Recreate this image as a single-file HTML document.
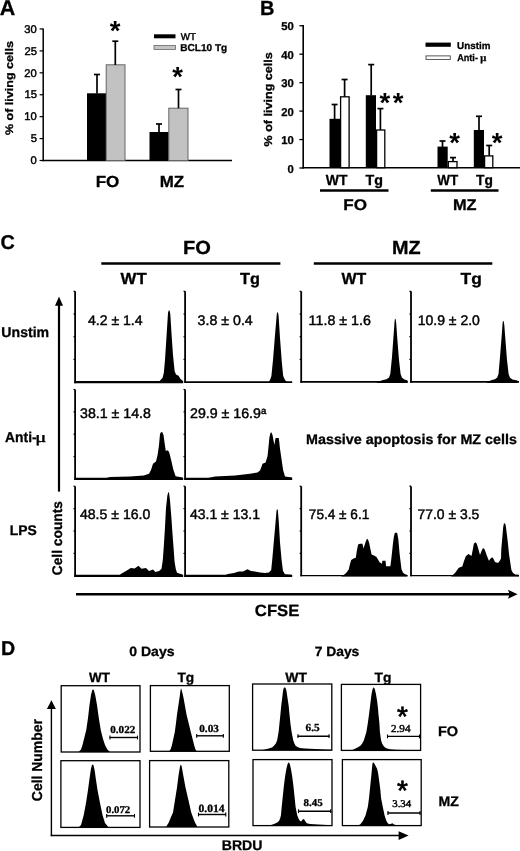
<!DOCTYPE html>
<html><head><meta charset="utf-8"><title>Figure</title>
<style>
html,body{margin:0;padding:0;background:#fff;}
svg{display:block;}
text{fill:#000;}
</style></head>
<body>
<svg width="520" height="851" viewBox="0 0 520 851" shape-rendering="geometricPrecision" text-rendering="geometricPrecision">
<defs><filter id="soft" x="0" y="0" width="520" height="851" filterUnits="userSpaceOnUse"><feGaussianBlur stdDeviation="0.45"/></filter></defs>
<rect x="0" y="0" width="520" height="851" fill="#fff"/>
<g filter="url(#soft)">
<text x="-0.34" y="14.60" font-size="21.3" font-weight="700" font-family='"Liberation Sans", sans-serif' textLength="15.52" lengthAdjust="spacingAndGlyphs" stroke="#000" stroke-width="0.30">A</text>
<line x1="43.20" y1="28.50" x2="43.20" y2="161.20" stroke="#000" stroke-width="1.5" stroke-linecap="butt"/>
<line x1="42.50" y1="160.50" x2="232.00" y2="160.50" stroke="#000" stroke-width="1.5" stroke-linecap="butt"/>
<line x1="39.60" y1="160.50" x2="43.20" y2="160.50" stroke="#000" stroke-width="1.2" stroke-linecap="butt"/>
<text x="30.58" y="164.20" font-size="11.2" font-weight="400" font-family='"Liberation Sans", sans-serif' textLength="6.23" lengthAdjust="spacingAndGlyphs" stroke="#000" stroke-width="0.45">0</text>
<line x1="39.60" y1="138.58" x2="43.20" y2="138.58" stroke="#000" stroke-width="1.2" stroke-linecap="butt"/>
<text x="30.63" y="142.28" font-size="11.2" font-weight="400" font-family='"Liberation Sans", sans-serif' textLength="6.23" lengthAdjust="spacingAndGlyphs" stroke="#000" stroke-width="0.45">5</text>
<line x1="39.60" y1="116.66" x2="43.20" y2="116.66" stroke="#000" stroke-width="1.2" stroke-linecap="butt"/>
<text x="24.36" y="120.36" font-size="11.2" font-weight="400" font-family='"Liberation Sans", sans-serif' textLength="12.46" lengthAdjust="spacingAndGlyphs" stroke="#000" stroke-width="0.45">10</text>
<line x1="39.60" y1="94.74" x2="43.20" y2="94.74" stroke="#000" stroke-width="1.2" stroke-linecap="butt"/>
<text x="24.42" y="98.44" font-size="11.2" font-weight="400" font-family='"Liberation Sans", sans-serif' textLength="12.46" lengthAdjust="spacingAndGlyphs" stroke="#000" stroke-width="0.45">15</text>
<line x1="39.60" y1="72.82" x2="43.20" y2="72.82" stroke="#000" stroke-width="1.2" stroke-linecap="butt"/>
<text x="24.36" y="76.52" font-size="11.2" font-weight="400" font-family='"Liberation Sans", sans-serif' textLength="12.46" lengthAdjust="spacingAndGlyphs" stroke="#000" stroke-width="0.45">20</text>
<line x1="39.60" y1="50.90" x2="43.20" y2="50.90" stroke="#000" stroke-width="1.2" stroke-linecap="butt"/>
<text x="24.42" y="54.60" font-size="11.2" font-weight="400" font-family='"Liberation Sans", sans-serif' textLength="12.46" lengthAdjust="spacingAndGlyphs" stroke="#000" stroke-width="0.45">25</text>
<line x1="39.60" y1="28.98" x2="43.20" y2="28.98" stroke="#000" stroke-width="1.2" stroke-linecap="butt"/>
<text x="24.36" y="32.68" font-size="11.2" font-weight="400" font-family='"Liberation Sans", sans-serif' textLength="12.46" lengthAdjust="spacingAndGlyphs" stroke="#000" stroke-width="0.45">30</text>
<text transform="translate(12.70,135.11) rotate(-90)" x="0" y="0" font-size="11" font-weight="700" font-family='"Liberation Sans", sans-serif' textLength="94.04" lengthAdjust="spacingAndGlyphs" stroke="#000" stroke-width="0.3">% of living cells</text>
<rect x="87.00" y="93.30" width="19.20" height="67.20" fill="#000"/>
<rect x="106.20" y="64.80" width="18.80" height="95.70" fill="#c2c2c2" stroke="#666" stroke-width="1"/>
<rect x="149.50" y="132.00" width="19.30" height="28.50" fill="#000"/>
<rect x="168.80" y="108.20" width="19.20" height="52.30" fill="#c2c2c2" stroke="#666" stroke-width="1"/>
<line x1="97.00" y1="74.50" x2="97.00" y2="93.50" stroke="#000" stroke-width="1.7" stroke-linecap="butt"/>
<line x1="94.00" y1="74.50" x2="100.00" y2="74.50" stroke="#000" stroke-width="1.7" stroke-linecap="butt"/>
<line x1="115.30" y1="41.20" x2="115.30" y2="65.00" stroke="#000" stroke-width="1.7" stroke-linecap="butt"/>
<line x1="112.30" y1="41.20" x2="118.30" y2="41.20" stroke="#000" stroke-width="1.7" stroke-linecap="butt"/>
<line x1="159.00" y1="124.00" x2="159.00" y2="132.00" stroke="#000" stroke-width="1.7" stroke-linecap="butt"/>
<line x1="156.00" y1="124.00" x2="162.00" y2="124.00" stroke="#000" stroke-width="1.7" stroke-linecap="butt"/>
<line x1="178.50" y1="89.50" x2="178.50" y2="108.20" stroke="#000" stroke-width="1.7" stroke-linecap="butt"/>
<line x1="175.50" y1="89.50" x2="181.50" y2="89.50" stroke="#000" stroke-width="1.7" stroke-linecap="butt"/>
<text x="115.00" y="39.89" text-anchor="middle" font-size="27.5" font-weight="700" font-family='"Liberation Sans", sans-serif' stroke="#000" stroke-width="0">*</text>
<text x="177.60" y="86.39" text-anchor="middle" font-size="27.5" font-weight="700" font-family='"Liberation Sans", sans-serif' stroke="#000" stroke-width="0">*</text>
<rect x="154.00" y="34.30" width="21.50" height="4.00" fill="#000"/>
<rect x="154.00" y="45.50" width="21.50" height="4.00" fill="#c4c4c4" stroke="#666" stroke-width="0.8"/>
<text x="180.85" y="40.10" font-size="10" font-weight="400" font-family='"Liberation Sans", sans-serif' textLength="15.24" lengthAdjust="spacingAndGlyphs" stroke="#000" stroke-width="0.45">WT</text>
<text x="180.24" y="51.20" font-size="10" font-weight="700" font-family='"Liberation Sans", sans-serif' textLength="47.03" lengthAdjust="spacingAndGlyphs" stroke="#000" stroke-width="0.30">BCL10 Tg</text>
<text x="95.69" y="187.00" font-size="16" font-weight="700" font-family='"Liberation Sans", sans-serif' textLength="23.65" lengthAdjust="spacingAndGlyphs" stroke="#000" stroke-width="0.30">FO</text>
<text x="159.80" y="187.00" font-size="16" font-weight="700" font-family='"Liberation Sans", sans-serif' textLength="24.40" lengthAdjust="spacingAndGlyphs" stroke="#000" stroke-width="0.30">MZ</text>
<text x="260.10" y="15.00" font-size="20.5" font-weight="700" font-family='"Liberation Sans", sans-serif' textLength="14.44" lengthAdjust="spacingAndGlyphs" stroke="#000" stroke-width="0.30">B</text>
<line x1="303.20" y1="25.00" x2="303.20" y2="168.40" stroke="#000" stroke-width="1.6" stroke-linecap="butt"/>
<line x1="302.40" y1="167.70" x2="520.00" y2="167.70" stroke="#000" stroke-width="1.6" stroke-linecap="butt"/>
<line x1="299.40" y1="168.00" x2="303.20" y2="168.00" stroke="#000" stroke-width="1.3" stroke-linecap="butt"/>
<text x="287.48" y="172.70" font-size="11.3" font-weight="700" font-family='"Liberation Sans", sans-serif' textLength="6.28" lengthAdjust="spacingAndGlyphs" stroke="#000" stroke-width="0.30">0</text>
<line x1="299.40" y1="139.55" x2="303.20" y2="139.55" stroke="#000" stroke-width="1.3" stroke-linecap="butt"/>
<text x="281.21" y="144.25" font-size="11.3" font-weight="700" font-family='"Liberation Sans", sans-serif' textLength="12.57" lengthAdjust="spacingAndGlyphs" stroke="#000" stroke-width="0.30">10</text>
<line x1="299.40" y1="111.10" x2="303.20" y2="111.10" stroke="#000" stroke-width="1.3" stroke-linecap="butt"/>
<text x="281.21" y="115.80" font-size="11.3" font-weight="700" font-family='"Liberation Sans", sans-serif' textLength="12.57" lengthAdjust="spacingAndGlyphs" stroke="#000" stroke-width="0.30">20</text>
<line x1="299.40" y1="82.65" x2="303.20" y2="82.65" stroke="#000" stroke-width="1.3" stroke-linecap="butt"/>
<text x="281.21" y="87.35" font-size="11.3" font-weight="700" font-family='"Liberation Sans", sans-serif' textLength="12.57" lengthAdjust="spacingAndGlyphs" stroke="#000" stroke-width="0.30">30</text>
<line x1="299.40" y1="54.20" x2="303.20" y2="54.20" stroke="#000" stroke-width="1.3" stroke-linecap="butt"/>
<text x="281.21" y="58.90" font-size="11.3" font-weight="700" font-family='"Liberation Sans", sans-serif' textLength="12.57" lengthAdjust="spacingAndGlyphs" stroke="#000" stroke-width="0.30">40</text>
<line x1="299.40" y1="25.75" x2="303.20" y2="25.75" stroke="#000" stroke-width="1.3" stroke-linecap="butt"/>
<text x="281.21" y="30.45" font-size="11.3" font-weight="700" font-family='"Liberation Sans", sans-serif' textLength="12.57" lengthAdjust="spacingAndGlyphs" stroke="#000" stroke-width="0.30">50</text>
<text transform="translate(271.70,146.51) rotate(-90)" x="0" y="0" font-size="11.3" font-weight="700" font-family='"Liberation Sans", sans-serif' textLength="94.24" lengthAdjust="spacingAndGlyphs" stroke="#000" stroke-width="0.3">% of living cells</text>
<rect x="329.50" y="118.80" width="10.50" height="48.90" fill="#000"/>
<rect x="340.60" y="96.80" width="8.50" height="70.90" fill="#fff" stroke="#000" stroke-width="1.3"/>
<rect x="365.80" y="95.20" width="10.20" height="72.50" fill="#000"/>
<rect x="376.60" y="130.00" width="8.20" height="37.70" fill="#fff" stroke="#000" stroke-width="1.3"/>
<rect x="437.50" y="146.60" width="10.20" height="21.10" fill="#000"/>
<rect x="448.30" y="161.60" width="8.70" height="6.10" fill="#fff" stroke="#000" stroke-width="1.3"/>
<rect x="473.80" y="130.00" width="10.20" height="37.70" fill="#000"/>
<rect x="484.60" y="155.90" width="8.20" height="11.80" fill="#fff" stroke="#000" stroke-width="1.3"/>
<line x1="334.60" y1="104.50" x2="334.60" y2="119.00" stroke="#000" stroke-width="1.7" stroke-linecap="butt"/>
<line x1="331.60" y1="104.50" x2="337.60" y2="104.50" stroke="#000" stroke-width="1.7" stroke-linecap="butt"/>
<line x1="344.60" y1="79.50" x2="344.60" y2="96.50" stroke="#000" stroke-width="1.7" stroke-linecap="butt"/>
<line x1="341.60" y1="79.50" x2="347.60" y2="79.50" stroke="#000" stroke-width="1.7" stroke-linecap="butt"/>
<line x1="371.20" y1="64.60" x2="371.20" y2="95.50" stroke="#000" stroke-width="1.7" stroke-linecap="butt"/>
<line x1="368.20" y1="64.60" x2="374.20" y2="64.60" stroke="#000" stroke-width="1.7" stroke-linecap="butt"/>
<line x1="380.40" y1="108.60" x2="380.40" y2="130.00" stroke="#000" stroke-width="1.7" stroke-linecap="butt"/>
<line x1="377.40" y1="108.60" x2="383.40" y2="108.60" stroke="#000" stroke-width="1.7" stroke-linecap="butt"/>
<line x1="442.50" y1="141.00" x2="442.50" y2="147.00" stroke="#000" stroke-width="1.7" stroke-linecap="butt"/>
<line x1="439.50" y1="141.00" x2="445.50" y2="141.00" stroke="#000" stroke-width="1.7" stroke-linecap="butt"/>
<line x1="453.00" y1="157.60" x2="453.00" y2="161.00" stroke="#000" stroke-width="1.7" stroke-linecap="butt"/>
<line x1="450.00" y1="157.60" x2="456.00" y2="157.60" stroke="#000" stroke-width="1.7" stroke-linecap="butt"/>
<line x1="479.00" y1="116.30" x2="479.00" y2="130.00" stroke="#000" stroke-width="1.7" stroke-linecap="butt"/>
<line x1="476.00" y1="116.30" x2="482.00" y2="116.30" stroke="#000" stroke-width="1.7" stroke-linecap="butt"/>
<line x1="489.20" y1="145.50" x2="489.20" y2="155.50" stroke="#000" stroke-width="1.7" stroke-linecap="butt"/>
<line x1="486.20" y1="145.50" x2="492.20" y2="145.50" stroke="#000" stroke-width="1.7" stroke-linecap="butt"/>
<text x="384.90" y="112.19" text-anchor="middle" font-size="27.5" font-weight="700" font-family='"Liberation Sans", sans-serif' stroke="#000" stroke-width="0">*</text>
<text x="398.20" y="112.19" text-anchor="middle" font-size="27.5" font-weight="700" font-family='"Liberation Sans", sans-serif' stroke="#000" stroke-width="0">*</text>
<text x="454.50" y="152.39" text-anchor="middle" font-size="27.5" font-weight="700" font-family='"Liberation Sans", sans-serif' stroke="#000" stroke-width="0">*</text>
<text x="497.00" y="152.39" text-anchor="middle" font-size="27.5" font-weight="700" font-family='"Liberation Sans", sans-serif' stroke="#000" stroke-width="0">*</text>
<rect x="425.50" y="42.60" width="25.30" height="4.20" fill="#000"/>
<rect x="426.00" y="55.90" width="24.30" height="3.50" fill="#fff" stroke="#444" stroke-width="0.9"/>
<text x="457.11" y="48.60" font-size="9.8" font-weight="700" font-family='"Liberation Sans", sans-serif' textLength="33.27" lengthAdjust="spacingAndGlyphs" stroke="#000" stroke-width="0.30">Unstim</text>
<text x="457.17" y="61.30" font-size="9.8" font-weight="700" font-family='"Liberation Sans", sans-serif' textLength="20.76" lengthAdjust="spacingAndGlyphs" stroke="#000" stroke-width="0.30">Anti-</text>
<text x="480.29" y="61.30" font-size="10.5" font-weight="700" font-family='"Liberation Serif", serif' textLength="6.03" lengthAdjust="spacingAndGlyphs" stroke="#000" stroke-width="0.30">μ</text>
<text x="325.85" y="185.10" font-size="14.6" font-weight="700" font-family='"Liberation Sans", sans-serif' textLength="21.69" lengthAdjust="spacingAndGlyphs" stroke="#000" stroke-width="0.30">WT</text>
<text x="365.46" y="185.10" font-size="14.6" font-weight="700" font-family='"Liberation Sans", sans-serif' textLength="17.50" lengthAdjust="spacingAndGlyphs" stroke="#000" stroke-width="0.30">Tg</text>
<text x="437.20" y="185.10" font-size="14.6" font-weight="700" font-family='"Liberation Sans", sans-serif' textLength="20.93" lengthAdjust="spacingAndGlyphs" stroke="#000" stroke-width="0.30">WT</text>
<text x="475.96" y="185.10" font-size="14.6" font-weight="700" font-family='"Liberation Sans", sans-serif' textLength="16.86" lengthAdjust="spacingAndGlyphs" stroke="#000" stroke-width="0.30">Tg</text>
<line x1="320.00" y1="190.50" x2="388.50" y2="190.50" stroke="#000" stroke-width="2.6" stroke-linecap="butt"/>
<line x1="430.80" y1="190.50" x2="498.50" y2="190.50" stroke="#000" stroke-width="2.6" stroke-linecap="butt"/>
<text x="343.29" y="210.10" font-size="15.5" font-weight="700" font-family='"Liberation Sans", sans-serif' textLength="23.76" lengthAdjust="spacingAndGlyphs" stroke="#000" stroke-width="0.30">FO</text>
<text x="452.94" y="210.10" font-size="15.5" font-weight="700" font-family='"Liberation Sans", sans-serif' textLength="23.66" lengthAdjust="spacingAndGlyphs" stroke="#000" stroke-width="0.30">MZ</text>
<text x="0.61" y="248.50" font-size="20" font-weight="700" font-family='"Liberation Sans", sans-serif' textLength="14.33" lengthAdjust="spacingAndGlyphs" stroke="#000" stroke-width="0.30">C</text>
<text x="182.99" y="253.70" font-size="19" font-weight="700" font-family='"Liberation Sans", sans-serif' textLength="27.88" lengthAdjust="spacingAndGlyphs" stroke="#000" stroke-width="0.30">FO</text>
<text x="391.91" y="253.75" font-size="19" font-weight="700" font-family='"Liberation Sans", sans-serif' textLength="28.67" lengthAdjust="spacingAndGlyphs" stroke="#000" stroke-width="0.30">MZ</text>
<line x1="101.30" y1="263.60" x2="280.40" y2="263.60" stroke="#000" stroke-width="2.5" stroke-linecap="butt"/>
<line x1="313.80" y1="263.40" x2="492.30" y2="263.40" stroke="#000" stroke-width="2.5" stroke-linecap="butt"/>
<text x="120.60" y="283.70" font-size="16" font-weight="700" font-family='"Liberation Sans", sans-serif' textLength="26.06" lengthAdjust="spacingAndGlyphs" stroke="#000" stroke-width="0.30">WT</text>
<text x="240.04" y="283.50" font-size="16" font-weight="700" font-family='"Liberation Sans", sans-serif' textLength="19.85" lengthAdjust="spacingAndGlyphs" stroke="#000" stroke-width="0.30">Tg</text>
<text x="341.45" y="283.75" font-size="16" font-weight="700" font-family='"Liberation Sans", sans-serif' textLength="24.75" lengthAdjust="spacingAndGlyphs" stroke="#000" stroke-width="0.30">WT</text>
<text x="460.53" y="283.60" font-size="16" font-weight="700" font-family='"Liberation Sans", sans-serif' textLength="21.23" lengthAdjust="spacingAndGlyphs" stroke="#000" stroke-width="0.30">Tg</text>
<line x1="59.00" y1="304.00" x2="59.00" y2="491.60" stroke="#000" stroke-width="2.2" stroke-linecap="butt"/>
<polygon fill="#000" points="59.00,296.60 55.00,305.80 63.00,305.80"/>
<text transform="translate(61.90,575.25) rotate(-90)" x="0" y="0" font-size="14" font-weight="700" font-family='"Liberation Sans", sans-serif' textLength="74.30" lengthAdjust="spacingAndGlyphs" stroke="#000" stroke-width="0.3">Cell counts</text>
<text x="1.35" y="337.20" font-size="14.3" font-weight="700" font-family='"Liberation Sans", sans-serif' textLength="47.78" lengthAdjust="spacingAndGlyphs" stroke="#000" stroke-width="0.30">Unstim</text>
<text x="5.05" y="441.60" font-size="14.2" font-weight="700" font-family='"Liberation Sans", sans-serif' textLength="31.56" lengthAdjust="spacingAndGlyphs" stroke="#000" stroke-width="0.30">Anti-</text>
<text x="35.36" y="441.60" font-size="15" font-weight="400" font-family='"Liberation Serif", serif' textLength="10.98" lengthAdjust="spacingAndGlyphs" stroke="#000" stroke-width="0.45">μ</text>
<text x="9.70" y="535.20" font-size="14" font-weight="700" font-family='"Liberation Sans", sans-serif' textLength="26.99" lengthAdjust="spacingAndGlyphs" stroke="#000" stroke-width="0.30">LPS</text>
<line x1="76.00" y1="594.20" x2="510.00" y2="594.20" stroke="#000" stroke-width="2.5" stroke-linecap="butt"/>
<polygon fill="#000" points="517.60,594.20 508.00,589.70 509.60,594.20 508.00,598.70"/>
<text x="254.83" y="615.90" font-size="16.3" font-weight="700" font-family='"Liberation Sans", sans-serif' textLength="44.59" lengthAdjust="spacingAndGlyphs" stroke="#000" stroke-width="0.30">CFSE</text>
<line x1="75.10" y1="291.30" x2="75.10" y2="383.25" stroke="#000" stroke-width="1.8" stroke-linecap="butt"/>
<line x1="74.30" y1="382.10" x2="183.20" y2="382.10" stroke="#000" stroke-width="2.3" stroke-linecap="butt"/>
<line x1="73.50" y1="291.30" x2="75.10" y2="291.30" stroke="#000" stroke-width="1.2" stroke-linecap="butt"/>
<line x1="73.50" y1="314.00" x2="75.10" y2="314.00" stroke="#000" stroke-width="1.2" stroke-linecap="butt"/>
<line x1="73.50" y1="336.70" x2="75.10" y2="336.70" stroke="#000" stroke-width="1.2" stroke-linecap="butt"/>
<line x1="73.50" y1="359.40" x2="75.10" y2="359.40" stroke="#000" stroke-width="1.2" stroke-linecap="butt"/>
<line x1="185.10" y1="291.30" x2="185.10" y2="382.90" stroke="#000" stroke-width="1.8" stroke-linecap="butt"/>
<line x1="184.30" y1="382.10" x2="292.20" y2="382.10" stroke="#000" stroke-width="1.6" stroke-linecap="butt"/>
<line x1="183.50" y1="291.30" x2="185.10" y2="291.30" stroke="#000" stroke-width="1.2" stroke-linecap="butt"/>
<line x1="183.50" y1="314.00" x2="185.10" y2="314.00" stroke="#000" stroke-width="1.2" stroke-linecap="butt"/>
<line x1="183.50" y1="336.70" x2="185.10" y2="336.70" stroke="#000" stroke-width="1.2" stroke-linecap="butt"/>
<line x1="183.50" y1="359.40" x2="185.10" y2="359.40" stroke="#000" stroke-width="1.2" stroke-linecap="butt"/>
<line x1="301.20" y1="291.30" x2="301.20" y2="382.75" stroke="#000" stroke-width="1.8" stroke-linecap="butt"/>
<line x1="300.40" y1="381.90" x2="407.60" y2="381.90" stroke="#000" stroke-width="1.7" stroke-linecap="butt"/>
<line x1="299.60" y1="291.30" x2="301.20" y2="291.30" stroke="#000" stroke-width="1.2" stroke-linecap="butt"/>
<line x1="299.60" y1="314.00" x2="301.20" y2="314.00" stroke="#000" stroke-width="1.2" stroke-linecap="butt"/>
<line x1="299.60" y1="336.70" x2="301.20" y2="336.70" stroke="#000" stroke-width="1.2" stroke-linecap="butt"/>
<line x1="299.60" y1="359.40" x2="301.20" y2="359.40" stroke="#000" stroke-width="1.2" stroke-linecap="butt"/>
<line x1="411.00" y1="291.30" x2="411.00" y2="382.75" stroke="#000" stroke-width="1.8" stroke-linecap="butt"/>
<line x1="410.20" y1="381.90" x2="519.00" y2="381.90" stroke="#000" stroke-width="1.7" stroke-linecap="butt"/>
<line x1="409.40" y1="291.30" x2="411.00" y2="291.30" stroke="#000" stroke-width="1.2" stroke-linecap="butt"/>
<line x1="409.40" y1="314.00" x2="411.00" y2="314.00" stroke="#000" stroke-width="1.2" stroke-linecap="butt"/>
<line x1="409.40" y1="336.70" x2="411.00" y2="336.70" stroke="#000" stroke-width="1.2" stroke-linecap="butt"/>
<line x1="409.40" y1="359.40" x2="411.00" y2="359.40" stroke="#000" stroke-width="1.2" stroke-linecap="butt"/>
<line x1="75.10" y1="389.50" x2="75.10" y2="480.05" stroke="#000" stroke-width="1.8" stroke-linecap="butt"/>
<line x1="74.30" y1="478.90" x2="183.20" y2="478.90" stroke="#000" stroke-width="2.3" stroke-linecap="butt"/>
<line x1="73.50" y1="389.50" x2="75.10" y2="389.50" stroke="#000" stroke-width="1.2" stroke-linecap="butt"/>
<line x1="73.50" y1="411.85" x2="75.10" y2="411.85" stroke="#000" stroke-width="1.2" stroke-linecap="butt"/>
<line x1="73.50" y1="434.20" x2="75.10" y2="434.20" stroke="#000" stroke-width="1.2" stroke-linecap="butt"/>
<line x1="73.50" y1="456.55" x2="75.10" y2="456.55" stroke="#000" stroke-width="1.2" stroke-linecap="butt"/>
<line x1="185.10" y1="389.50" x2="185.10" y2="480.05" stroke="#000" stroke-width="1.8" stroke-linecap="butt"/>
<line x1="184.30" y1="478.90" x2="292.20" y2="478.90" stroke="#000" stroke-width="2.3" stroke-linecap="butt"/>
<line x1="183.50" y1="389.50" x2="185.10" y2="389.50" stroke="#000" stroke-width="1.2" stroke-linecap="butt"/>
<line x1="183.50" y1="411.85" x2="185.10" y2="411.85" stroke="#000" stroke-width="1.2" stroke-linecap="butt"/>
<line x1="183.50" y1="434.20" x2="185.10" y2="434.20" stroke="#000" stroke-width="1.2" stroke-linecap="butt"/>
<line x1="183.50" y1="456.55" x2="185.10" y2="456.55" stroke="#000" stroke-width="1.2" stroke-linecap="butt"/>
<line x1="75.10" y1="486.20" x2="75.10" y2="576.95" stroke="#000" stroke-width="1.8" stroke-linecap="butt"/>
<line x1="74.30" y1="575.80" x2="183.20" y2="575.80" stroke="#000" stroke-width="2.3" stroke-linecap="butt"/>
<line x1="73.50" y1="486.20" x2="75.10" y2="486.20" stroke="#000" stroke-width="1.2" stroke-linecap="butt"/>
<line x1="73.50" y1="508.60" x2="75.10" y2="508.60" stroke="#000" stroke-width="1.2" stroke-linecap="butt"/>
<line x1="73.50" y1="531.00" x2="75.10" y2="531.00" stroke="#000" stroke-width="1.2" stroke-linecap="butt"/>
<line x1="73.50" y1="553.40" x2="75.10" y2="553.40" stroke="#000" stroke-width="1.2" stroke-linecap="butt"/>
<line x1="185.10" y1="486.20" x2="185.10" y2="576.95" stroke="#000" stroke-width="1.8" stroke-linecap="butt"/>
<line x1="184.30" y1="575.80" x2="292.20" y2="575.80" stroke="#000" stroke-width="2.3" stroke-linecap="butt"/>
<line x1="183.50" y1="486.20" x2="185.10" y2="486.20" stroke="#000" stroke-width="1.2" stroke-linecap="butt"/>
<line x1="183.50" y1="508.60" x2="185.10" y2="508.60" stroke="#000" stroke-width="1.2" stroke-linecap="butt"/>
<line x1="183.50" y1="531.00" x2="185.10" y2="531.00" stroke="#000" stroke-width="1.2" stroke-linecap="butt"/>
<line x1="183.50" y1="553.40" x2="185.10" y2="553.40" stroke="#000" stroke-width="1.2" stroke-linecap="butt"/>
<line x1="301.20" y1="486.20" x2="301.20" y2="576.30" stroke="#000" stroke-width="1.8" stroke-linecap="butt"/>
<line x1="300.40" y1="575.60" x2="407.60" y2="575.60" stroke="#000" stroke-width="1.4" stroke-linecap="butt"/>
<line x1="299.60" y1="486.20" x2="301.20" y2="486.20" stroke="#000" stroke-width="1.2" stroke-linecap="butt"/>
<line x1="299.60" y1="508.60" x2="301.20" y2="508.60" stroke="#000" stroke-width="1.2" stroke-linecap="butt"/>
<line x1="299.60" y1="531.00" x2="301.20" y2="531.00" stroke="#000" stroke-width="1.2" stroke-linecap="butt"/>
<line x1="299.60" y1="553.40" x2="301.20" y2="553.40" stroke="#000" stroke-width="1.2" stroke-linecap="butt"/>
<line x1="411.00" y1="486.20" x2="411.00" y2="576.30" stroke="#000" stroke-width="1.8" stroke-linecap="butt"/>
<line x1="410.20" y1="575.60" x2="519.00" y2="575.60" stroke="#000" stroke-width="1.4" stroke-linecap="butt"/>
<line x1="409.40" y1="486.20" x2="411.00" y2="486.20" stroke="#000" stroke-width="1.2" stroke-linecap="butt"/>
<line x1="409.40" y1="508.60" x2="411.00" y2="508.60" stroke="#000" stroke-width="1.2" stroke-linecap="butt"/>
<line x1="409.40" y1="531.00" x2="411.00" y2="531.00" stroke="#000" stroke-width="1.2" stroke-linecap="butt"/>
<line x1="409.40" y1="553.40" x2="411.00" y2="553.40" stroke="#000" stroke-width="1.2" stroke-linecap="butt"/>
<text x="87.92" y="324.80" font-size="14" font-weight="400" font-family='"Liberation Sans", sans-serif' textLength="54.70" lengthAdjust="spacingAndGlyphs" stroke="#000" stroke-width="0.45">4.2 ± 1.4</text>
<text x="197.63" y="324.80" font-size="14" font-weight="400" font-family='"Liberation Sans", sans-serif' textLength="55.09" lengthAdjust="spacingAndGlyphs" stroke="#000" stroke-width="0.45">3.8 ± 0.4</text>
<text x="308.63" y="325.40" font-size="14" font-weight="400" font-family='"Liberation Sans", sans-serif' textLength="62.26" lengthAdjust="spacingAndGlyphs" stroke="#000" stroke-width="0.45">11.8 ± 1.6</text>
<text x="417.65" y="325.20" font-size="14" font-weight="400" font-family='"Liberation Sans", sans-serif' textLength="62.26" lengthAdjust="spacingAndGlyphs" stroke="#000" stroke-width="0.45">10.9 ± 2.0</text>
<text x="80.13" y="417.90" font-size="14" font-weight="400" font-family='"Liberation Sans", sans-serif' textLength="70.76" lengthAdjust="spacingAndGlyphs" stroke="#000" stroke-width="0.45">38.1 ± 14.8</text>
<text x="189.99" y="417.90" font-size="14" font-weight="400" font-family='"Liberation Sans", sans-serif' textLength="70.98" lengthAdjust="spacingAndGlyphs" stroke="#000" stroke-width="0.45">29.9 ± 16.9</text>
<text x="261.12" y="414.40" font-size="9.6" font-weight="400" font-family='"Liberation Sans", sans-serif' textLength="5.29" lengthAdjust="spacingAndGlyphs" stroke="#000" stroke-width="0.45">a</text>
<text x="79.92" y="518.80" font-size="14" font-weight="400" font-family='"Liberation Sans", sans-serif' textLength="70.40" lengthAdjust="spacingAndGlyphs" stroke="#000" stroke-width="0.45">48.5 ± 16.0</text>
<text x="189.92" y="518.80" font-size="14" font-weight="400" font-family='"Liberation Sans", sans-serif' textLength="70.04" lengthAdjust="spacingAndGlyphs" stroke="#000" stroke-width="0.45">43.1 ± 13.1</text>
<text x="308.82" y="518.80" font-size="14" font-weight="400" font-family='"Liberation Sans", sans-serif' textLength="60.51" lengthAdjust="spacingAndGlyphs" stroke="#000" stroke-width="0.45">75.4 ± 6.1</text>
<text x="417.50" y="518.80" font-size="14" font-weight="400" font-family='"Liberation Sans", sans-serif' textLength="61.87" lengthAdjust="spacingAndGlyphs" stroke="#000" stroke-width="0.45">77.0 ± 3.5</text>
<text x="306.07" y="443.90" font-size="14" font-weight="700" font-family='"Liberation Sans", sans-serif' textLength="210.83" lengthAdjust="spacingAndGlyphs" stroke="#000" stroke-width="0.30">Massive apoptosis for MZ cells</text>
<polygon fill="#000" points="158.00,382.90 160.50,380.00 162.50,378.00 163.80,373.00 165.00,360.00 166.60,335.00 168.00,313.00 168.70,310.40 169.60,310.60 170.30,314.00 171.60,335.00 173.00,355.00 174.60,371.00 176.00,374.50 178.60,375.80 180.50,379.00 183.00,381.00 183.00,382.90"/>
<polygon fill="#000" points="268.00,382.90 270.00,380.00 271.40,376.00 273.00,360.00 275.00,335.00 276.80,314.00 277.30,312.30 278.00,312.60 278.60,316.00 280.00,338.00 281.80,362.00 283.20,376.00 285.00,380.00 288.00,382.90"/>
<polygon fill="#000" points="376.00,382.90 382.00,380.20 386.50,379.20 389.00,377.60 390.30,374.00 392.00,357.00 393.60,335.00 394.60,321.00 395.00,318.80 395.60,319.00 396.20,323.00 397.40,340.00 399.00,360.00 400.60,374.00 402.00,377.80 404.50,379.60 407.60,380.40 407.60,382.90"/>
<polygon fill="#000" points="486.00,382.90 491.00,380.20 495.00,379.20 497.20,377.60 498.50,374.00 500.00,357.00 501.60,337.00 502.60,323.00 503.00,321.00 503.70,321.20 504.30,325.00 505.60,342.00 507.00,360.00 508.60,374.00 510.00,377.80 512.50,379.60 517.50,380.60 517.50,382.90"/>
<polygon fill="#000" points="100.00,479.70 110.00,477.00 130.00,476.40 143.80,475.40 149.00,473.80 151.00,470.00 153.00,463.80 156.00,461.50 157.70,454.60 159.00,445.00 160.00,434.00 161.00,432.20 162.20,432.00 163.50,435.00 164.60,443.00 165.80,451.00 167.50,450.20 168.80,451.50 169.80,454.60 171.60,462.00 173.30,469.60 175.60,476.20 182.50,477.40 182.50,479.70"/>
<polygon fill="#000" points="200.00,479.70 215.00,476.60 235.00,475.60 250.00,473.80 257.50,472.50 260.00,470.60 261.40,467.00 262.50,463.80 265.60,462.50 267.50,456.20 268.50,447.00 269.40,437.50 270.40,433.00 271.30,432.20 272.50,435.00 273.40,440.00 274.40,445.00 275.00,441.00 275.60,438.10 278.75,438.10 279.40,443.00 280.00,448.80 281.50,459.00 283.10,470.00 285.00,476.60 292.00,477.40 292.00,479.70"/>
<polygon fill="#000" points="118.00,576.60 120.80,574.00 126.00,571.00 130.80,568.00 134.60,568.50 138.50,565.80 141.50,568.80 146.00,568.00 149.00,571.00 153.00,569.60 155.40,572.00 159.20,571.00 161.50,568.80 162.80,560.00 163.80,546.50 165.00,527.00 166.00,508.00 167.30,496.00 168.20,492.20 169.00,492.40 170.00,500.40 171.20,515.00 172.30,531.00 173.50,547.00 174.60,562.00 175.80,569.00 177.00,572.70 182.30,574.60 182.30,576.60"/>
<polygon fill="#000" points="222.00,576.60 228.00,574.00 234.00,573.00 238.80,571.60 243.00,571.60 247.50,569.20 251.00,571.00 255.00,571.60 260.00,572.60 265.00,573.00 269.00,572.60 271.20,570.00 272.40,558.00 273.75,542.50 275.40,524.00 276.50,511.00 277.00,509.20 277.80,509.80 278.80,522.00 280.00,542.50 281.60,560.00 283.00,571.00 285.00,574.20 291.20,574.80 291.20,576.60"/>
<polygon fill="#000" points="341.00,576.60 345.00,574.00 347.00,572.00 348.80,569.20 350.00,564.00 351.20,560.00 353.50,558.60 355.80,557.70 356.80,551.00 358.10,544.60 360.00,543.80 362.40,543.80 363.00,546.00 363.50,548.50 364.80,544.50 365.80,541.50 366.60,539.60 367.30,538.80 368.20,540.00 369.20,543.10 370.40,549.00 371.60,554.60 374.00,555.60 376.50,556.90 378.00,559.40 379.60,562.30 381.90,563.80 382.40,560.80 385.50,560.80 386.10,566.20 390.40,566.20 391.30,559.00 392.20,550.80 393.00,543.00 393.80,536.90 394.70,533.20 396.00,532.40 397.30,533.20 398.40,540.00 399.60,553.80 400.60,562.00 401.50,569.20 402.80,572.20 404.20,573.80 407.30,575.00 407.30,576.60"/>
<polygon fill="#000" points="451.00,576.60 455.00,573.00 458.80,567.70 462.30,566.50 464.00,561.00 465.80,556.20 468.50,553.90 471.50,556.00 472.70,550.00 473.90,543.50 475.70,542.30 476.80,544.00 477.80,547.00 480.00,555.00 481.50,551.00 483.00,548.00 484.40,549.00 485.40,551.50 487.00,556.00 488.90,560.80 490.60,558.60 492.30,557.30 493.60,559.00 495.00,562.00 498.00,563.00 499.60,561.00 501.00,558.50 501.30,549.00 502.30,537.70 503.20,527.00 503.90,523.60 504.50,523.20 505.20,523.80 505.80,526.00 507.00,535.40 508.00,544.00 509.00,553.90 510.20,562.00 511.40,570.00 513.00,573.00 515.40,574.40 519.00,574.80 519.00,576.60"/>
<text x="0.92" y="654.50" font-size="20" font-weight="700" font-family='"Liberation Sans", sans-serif' textLength="14.21" lengthAdjust="spacingAndGlyphs" stroke="#000" stroke-width="0.30">D</text>
<text x="129.24" y="655.80" font-size="13.5" font-weight="700" font-family='"Liberation Sans", sans-serif' textLength="45.32" lengthAdjust="spacingAndGlyphs" stroke="#000" stroke-width="0.30">0 Days</text>
<text x="314.65" y="655.80" font-size="13.5" font-weight="700" font-family='"Liberation Sans", sans-serif' textLength="44.70" lengthAdjust="spacingAndGlyphs" stroke="#000" stroke-width="0.30">7 Days</text>
<text x="89.00" y="681.80" font-size="13.5" font-weight="700" font-family='"Liberation Sans", sans-serif' textLength="20.93" lengthAdjust="spacingAndGlyphs" stroke="#000" stroke-width="0.30">WT</text>
<text x="177.46" y="681.80" font-size="13.5" font-weight="700" font-family='"Liberation Sans", sans-serif' textLength="16.75" lengthAdjust="spacingAndGlyphs" stroke="#000" stroke-width="0.30">Tg</text>
<text x="285.20" y="681.60" font-size="13.5" font-weight="700" font-family='"Liberation Sans", sans-serif' textLength="21.74" lengthAdjust="spacingAndGlyphs" stroke="#000" stroke-width="0.30">WT</text>
<text x="374.56" y="681.60" font-size="13.5" font-weight="700" font-family='"Liberation Sans", sans-serif' textLength="16.91" lengthAdjust="spacingAndGlyphs" stroke="#000" stroke-width="0.30">Tg</text>
<text x="438.01" y="735.70" font-size="14" font-weight="700" font-family='"Liberation Sans", sans-serif' textLength="20.12" lengthAdjust="spacingAndGlyphs" stroke="#000" stroke-width="0.30">FO</text>
<text x="438.53" y="806.40" font-size="14" font-weight="700" font-family='"Liberation Sans", sans-serif' textLength="20.35" lengthAdjust="spacingAndGlyphs" stroke="#000" stroke-width="0.30">MZ</text>
<line x1="51.40" y1="708.00" x2="51.40" y2="836.20" stroke="#000" stroke-width="1.4" stroke-linecap="butt"/>
<polygon fill="#000" points="51.40,700.20 46.90,709.00 55.90,709.00"/>
<line x1="50.70" y1="835.50" x2="400.00" y2="835.50" stroke="#000" stroke-width="1.6" stroke-linecap="butt"/>
<polygon fill="#000" points="408.60,835.60 398.60,831.20 398.60,840.00"/>
<text transform="translate(42.20,801.16) rotate(-90)" x="0" y="0" font-size="14.4" font-weight="700" font-family='"Liberation Sans", sans-serif' textLength="81.97" lengthAdjust="spacingAndGlyphs" stroke="#000" stroke-width="0.3">Cell Number</text>
<text x="221.79" y="850.00" font-size="14" font-weight="700" font-family='"Liberation Sans", sans-serif' textLength="40.66" lengthAdjust="spacingAndGlyphs" stroke="#000" stroke-width="0.30">BRDU</text>
<rect x="61.2" y="685.7" width="78.80" height="66.30" fill="none" stroke="#000" stroke-width="1.3"/>
<rect x="150.4" y="685.6" width="78.90" height="65.70" fill="none" stroke="#000" stroke-width="1.3"/>
<rect x="252.6" y="684" width="79.20" height="66.20" fill="none" stroke="#000" stroke-width="1.3"/>
<rect x="341.4" y="684.4" width="79.20" height="66.00" fill="none" stroke="#000" stroke-width="1.3"/>
<rect x="60.9" y="760.7" width="79.10" height="66.70" fill="none" stroke="#000" stroke-width="1.3"/>
<rect x="149.6" y="760.6" width="79.20" height="66.40" fill="none" stroke="#000" stroke-width="1.3"/>
<rect x="253" y="759.6" width="79.00" height="66.00" fill="none" stroke="#000" stroke-width="1.3"/>
<rect x="342.4" y="759.6" width="78.80" height="66.00" fill="none" stroke="#000" stroke-width="1.3"/>
<polygon fill="#000" points="78.50,752.00 81.00,749.50 82.50,745.00 84.50,737.00 86.25,730.00 88.00,718.00 89.50,705.00 91.00,695.00 92.30,690.00 93.00,689.40 93.80,690.00 95.20,695.00 97.00,705.00 98.80,718.00 100.75,730.00 103.00,739.00 105.00,745.00 107.40,749.60 110.00,752.00"/>
<polygon fill="#000" points="169.20,751.30 170.50,749.50 171.80,745.70 173.30,739.00 174.80,731.90 176.00,723.00 177.00,714.60 178.30,706.00 179.60,697.30 180.40,691.00 181.00,688.30 181.70,690.00 183.40,697.30 185.00,706.00 186.50,714.60 188.60,723.00 190.80,731.90 192.60,739.00 194.30,745.70 195.40,749.30 196.60,751.30"/>
<polygon fill="#000" points="262.00,750.20 268.80,748.50 272.00,747.40 274.00,745.70 275.80,743.40 277.10,740.60 278.60,731.90 279.50,723.30 280.40,714.60 281.20,706.00 282.30,697.30 283.10,690.40 283.80,688.00 284.70,687.20 285.60,688.00 286.40,690.40 287.40,697.30 288.70,706.00 289.50,714.60 290.40,723.30 291.60,731.90 293.30,740.60 294.40,743.60 295.60,745.70 297.40,747.00 299.90,747.90 305.00,748.50 315.00,749.00 325.00,749.50 331.80,749.80 331.80,750.20"/>
<polygon fill="#000" points="351.00,750.40 353.40,749.60 356.00,748.30 358.40,747.00 360.40,745.70 362.20,743.40 363.80,740.60 366.40,731.90 367.80,723.30 369.00,714.60 370.00,706.50 370.70,700.80 371.60,693.80 372.60,689.00 373.70,687.20 374.80,689.00 375.90,693.80 377.10,700.80 377.90,707.50 378.50,714.60 379.40,723.30 379.90,731.90 381.10,740.60 382.10,743.60 383.40,745.70 384.80,747.20 386.30,748.30 390.00,749.20 396.00,749.70 404.00,750.10 404.00,750.40"/>
<polygon fill="#000" points="78.50,827.40 81.00,825.00 83.75,815.00 86.00,803.00 88.00,790.00 89.60,778.00 91.00,768.60 92.00,765.00 92.60,764.40 93.40,765.00 94.60,770.00 96.00,780.00 97.50,790.00 100.00,803.00 102.50,815.00 105.00,823.00 108.75,827.40"/>
<polygon fill="#000" points="166.00,827.00 168.75,822.50 171.00,817.00 173.00,812.50 175.00,800.00 177.00,787.50 178.60,775.00 180.00,766.60 180.75,764.40 181.60,766.00 183.20,775.00 185.50,787.50 188.40,800.00 191.25,812.50 193.40,818.60 195.00,822.50 197.50,827.00"/>
<polygon fill="#000" points="268.00,825.60 272.00,824.80 275.70,823.30 277.60,822.20 279.10,820.80 280.10,818.50 280.90,815.60 281.70,806.90 282.60,798.30 283.50,789.60 284.30,782.60 285.20,775.80 286.40,768.80 287.60,764.00 288.70,762.20 289.80,764.00 290.90,768.80 292.10,775.80 293.00,782.60 293.80,789.60 294.70,798.30 295.60,806.90 297.30,815.60 298.60,818.80 299.90,820.80 301.20,821.40 302.40,819.80 303.40,819.00 304.40,819.80 305.60,821.80 306.80,823.30 310.00,824.00 318.00,824.60 331.90,825.20 331.90,825.60"/>
<polygon fill="#000" points="357.00,825.80 359.50,824.80 360.40,824.20 363.00,820.80 365.50,815.60 367.80,806.90 369.00,798.30 369.90,789.60 370.60,782.60 371.30,775.80 372.00,768.00 372.50,763.60 373.00,762.20 374.20,763.20 375.60,766.00 377.10,768.80 377.90,772.00 378.50,775.80 379.40,782.60 380.30,789.60 381.10,798.30 382.80,806.90 384.60,815.60 386.30,820.80 387.60,823.00 388.90,824.20 390.60,824.00 392.40,823.30 394.00,824.40 397.00,825.20 404.00,825.60 404.00,825.80"/>
<line x1="109.50" y1="737.50" x2="138.00" y2="737.50" stroke="#000" stroke-width="1.4" stroke-linecap="butt"/>
<line x1="110.00" y1="735.60" x2="110.00" y2="739.40" stroke="#000" stroke-width="1.1" stroke-linecap="butt"/>
<line x1="137.50" y1="735.60" x2="137.50" y2="739.40" stroke="#000" stroke-width="1.1" stroke-linecap="butt"/>
<text x="110.26" y="733.00" font-size="10.66" font-weight="700" font-family='"Liberation Serif", serif' textLength="24.99" lengthAdjust="spacingAndGlyphs" stroke="#000" stroke-width="0.30">0.022</text>
<line x1="196.20" y1="735.80" x2="223.80" y2="735.80" stroke="#000" stroke-width="1.4" stroke-linecap="butt"/>
<line x1="196.70" y1="733.90" x2="196.70" y2="737.70" stroke="#000" stroke-width="1.1" stroke-linecap="butt"/>
<line x1="223.30" y1="733.90" x2="223.30" y2="737.70" stroke="#000" stroke-width="1.1" stroke-linecap="butt"/>
<text x="199.25" y="732.00" font-size="10.8" font-weight="700" font-family='"Liberation Serif", serif' textLength="19.69" lengthAdjust="spacingAndGlyphs" stroke="#000" stroke-width="0.30">0.03</text>
<line x1="297.50" y1="736.20" x2="329.50" y2="736.20" stroke="#000" stroke-width="1.4" stroke-linecap="butt"/>
<line x1="298.00" y1="734.30" x2="298.00" y2="738.10" stroke="#000" stroke-width="1.1" stroke-linecap="butt"/>
<line x1="329.00" y1="734.30" x2="329.00" y2="738.10" stroke="#000" stroke-width="1.1" stroke-linecap="butt"/>
<text x="305.55" y="731.30" font-size="10.86" font-weight="700" font-family='"Liberation Serif", serif' textLength="14.14" lengthAdjust="spacingAndGlyphs" stroke="#000" stroke-width="0.30">6.5</text>
<line x1="387.00" y1="736.40" x2="420.00" y2="736.40" stroke="#000" stroke-width="1.4" stroke-linecap="butt"/>
<line x1="387.50" y1="734.50" x2="387.50" y2="738.30" stroke="#000" stroke-width="1.1" stroke-linecap="butt"/>
<line x1="419.50" y1="734.50" x2="419.50" y2="738.30" stroke="#000" stroke-width="1.1" stroke-linecap="butt"/>
<text x="390.95" y="731.70" font-size="10.71" font-weight="400" font-family='"Liberation Serif", serif' textLength="19.52" lengthAdjust="spacingAndGlyphs" stroke="#000" stroke-width="0.45">2.94</text>
<line x1="106.20" y1="815.80" x2="135.00" y2="815.80" stroke="#000" stroke-width="1.4" stroke-linecap="butt"/>
<line x1="106.70" y1="813.90" x2="106.70" y2="817.70" stroke="#000" stroke-width="1.1" stroke-linecap="butt"/>
<line x1="134.50" y1="813.90" x2="134.50" y2="817.70" stroke="#000" stroke-width="1.1" stroke-linecap="butt"/>
<text x="106.02" y="812.50" font-size="10.33" font-weight="700" font-family='"Liberation Serif", serif' textLength="24.21" lengthAdjust="spacingAndGlyphs" stroke="#000" stroke-width="0.30">0.072</text>
<line x1="198.00" y1="814.50" x2="226.20" y2="814.50" stroke="#000" stroke-width="1.4" stroke-linecap="butt"/>
<line x1="198.50" y1="812.60" x2="198.50" y2="816.40" stroke="#000" stroke-width="1.1" stroke-linecap="butt"/>
<line x1="225.70" y1="812.60" x2="225.70" y2="816.40" stroke="#000" stroke-width="1.1" stroke-linecap="butt"/>
<text x="198.49" y="811.80" font-size="11.11" font-weight="700" font-family='"Liberation Serif", serif' textLength="26.04" lengthAdjust="spacingAndGlyphs" stroke="#000" stroke-width="0.30">0.014</text>
<line x1="298.00" y1="811.20" x2="331.20" y2="811.20" stroke="#000" stroke-width="1.4" stroke-linecap="butt"/>
<line x1="298.50" y1="809.30" x2="298.50" y2="813.10" stroke="#000" stroke-width="1.1" stroke-linecap="butt"/>
<line x1="330.70" y1="809.30" x2="330.70" y2="813.10" stroke="#000" stroke-width="1.1" stroke-linecap="butt"/>
<text x="303.57" y="806.30" font-size="10.49" font-weight="700" font-family='"Liberation Serif", serif' textLength="19.11" lengthAdjust="spacingAndGlyphs" stroke="#000" stroke-width="0.30">8.45</text>
<line x1="387.50" y1="813.00" x2="420.50" y2="813.00" stroke="#000" stroke-width="1.4" stroke-linecap="butt"/>
<line x1="388.00" y1="811.10" x2="388.00" y2="814.90" stroke="#000" stroke-width="1.1" stroke-linecap="butt"/>
<line x1="420.00" y1="811.10" x2="420.00" y2="814.90" stroke="#000" stroke-width="1.1" stroke-linecap="butt"/>
<text x="392.21" y="806.60" font-size="10.42" font-weight="400" font-family='"Liberation Serif", serif' textLength="19.00" lengthAdjust="spacingAndGlyphs" stroke="#000" stroke-width="0.45">3.34</text>
<text x="402.40" y="725.64" text-anchor="middle" font-size="28" font-weight="400" font-family='"Liberation Sans", sans-serif' stroke="#000" stroke-width="0.7">*</text>
<text x="402.40" y="800.34" text-anchor="middle" font-size="28" font-weight="400" font-family='"Liberation Sans", sans-serif' stroke="#000" stroke-width="0.7">*</text>
</g>
</svg>
</body></html>
